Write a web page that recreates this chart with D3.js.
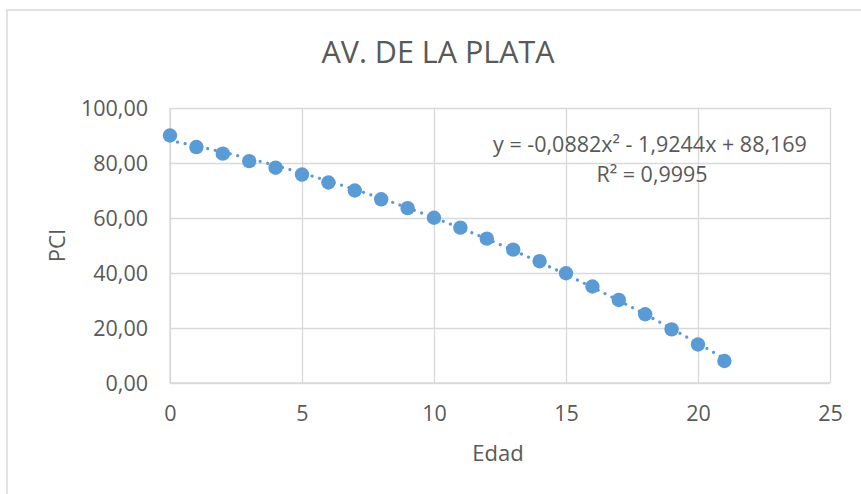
<!DOCTYPE html>
<html>
<head>
<meta charset="utf-8">
<script src="https://cdn.jsdelivr.net/npm/d3@7/dist/d3.min.js"></script>
<style>
  html, body { margin: 0; padding: 0; background: #ffffff; }
  svg { display: block; }
  text { font-family: "Open Sans", "Liberation Sans", sans-serif; fill: #595959; }
</style>
</head>
<body>
<svg id="chart" width="861" height="494"></svg>
<script>
// Age (years) and PCI readings
const edad = [0, 1, 2, 3, 4, 5, 6, 7, 8, 9, 10, 11, 12, 13, 14, 15, 16, 17, 18, 19, 20, 21];
const pci = [90.0, 85.8, 83.4, 80.7, 78.3, 75.8, 72.9, 70.0, 66.8, 63.6, 60.1,
             56.5, 52.5, 48.5, 44.3, 39.9, 35.1, 30.2, 25.0, 19.5, 14.0, 8.0];

// Polynomial trend (order 2): c0 + c1*x + c2*x^2
const trendCoef = [88.169, -1.9244, -0.0882];
const rSquared = 0.9995;

const xTicks = [0, 5, 10, 15, 20, 25];
const yTicks = [0, 20, 40, 60, 80, 100];

const title = "AV. DE LA PLATA";
const xTitle = "Edad";
const yTitle = "PCI";

const svg = d3.select("#chart");
const W = 861, H = 494;
const plot = { left: 170, right: 830, top: 108, bottom: 383 };
const blue = "#5B9BD5";
const grid = "#d9d9d9";

const es = d3.formatLocale({ decimal: ",", thousands: ".", grouping: [3], currency: ["", ""] });
const fmtY = es.format(".2f");
const comma = v => String(v).replace(".", ",");

const x = d3.scaleLinear().domain([0, 25]).range([plot.left, plot.right]);
const y = d3.scaleLinear().domain([0, 100]).range([plot.bottom, plot.top]);

// chart frame
svg.append("rect")
  .attr("x", 7).attr("y", 10)
  .attr("width", W + 20).attr("height", H + 20)
  .attr("fill", "#ffffff")
  .attr("stroke", grid).attr("stroke-width", 1.5);

// gridlines
const gx = svg.append("g").attr("transform", `translate(0,${plot.bottom})`)
  .call(d3.axisBottom(x).tickValues(xTicks).tickSize(-(plot.bottom - plot.top)).tickFormat(""));
const gy = svg.append("g").attr("transform", `translate(${plot.left},0)`)
  .call(d3.axisLeft(y).tickValues(yTicks).tickSize(-(plot.right - plot.left)).tickFormat(""));
[gx, gy].forEach(g => {
  g.select(".domain").remove();
  g.selectAll(".tick line").attr("stroke", grid).attr("stroke-width", 1.3);
});

// axis lines
svg.append("line").attr("x1", plot.left).attr("x2", plot.right)
  .attr("y1", plot.bottom).attr("y2", plot.bottom)
  .attr("stroke", grid).attr("stroke-width", 1.3);
svg.append("line").attr("x1", plot.left).attr("x2", plot.left)
  .attr("y1", plot.top).attr("y2", plot.bottom)
  .attr("stroke", grid).attr("stroke-width", 1.3);

// tick labels
const ax = svg.append("g").attr("transform", `translate(0,${plot.bottom + 23})`)
  .call(d3.axisBottom(x).tickValues(xTicks).tickSize(0).tickFormat(d3.format("d")));
const ay = svg.append("g").attr("transform", `translate(${plot.left - 22},0)`)
  .call(d3.axisLeft(y).tickValues(yTicks).tickSize(0).tickFormat(fmtY));
[ax, ay].forEach(g => {
  g.select(".domain").remove();
  g.selectAll(".tick text")
    .attr("font-family", "'Open Sans', 'Liberation Sans', sans-serif")
    .attr("font-size", 21.5).attr("fill", "#595959");
});
ax.selectAll(".tick text").attr("dy", "0.71em").attr("y", 0);
ay.selectAll(".tick text").attr("x", 0).attr("dy", "0.35em");

// trend curve
const poly = v => trendCoef[0] + trendCoef[1] * v + trendCoef[2] * v * v;
const xs = d3.range(0, d3.max(edad) + 0.001, 0.1);
svg.append("path")
  .datum(xs)
  .attr("fill", "none")
  .attr("stroke", blue)
  .attr("stroke-width", 3.2)
  .attr("stroke-linecap", "round")
  .attr("stroke-dasharray", "0.01 7.7")
  .attr("d", d3.line().x(d => x(d)).y(d => y(poly(d))));

// data points
svg.append("g").selectAll("circle")
  .data(edad.map((e, i) => ({ e, p: pci[i] })))
  .join("circle")
  .attr("cx", d => x(d.e))
  .attr("cy", d => y(d.p))
  .attr("r", 7.2)
  .attr("fill", blue);

// equation and R²
const c = trendCoef;
const sign = v => (v < 0 ? "- " : "+ ") + comma(Math.abs(v));
const eq = `y = ${comma(c[2])}x² ${sign(c[1])}x ${sign(c[0])}`;
svg.append("text").attr("x", 650).attr("y", 152)
  .attr("text-anchor", "middle").attr("font-size", 21.5).text(eq);
svg.append("text").attr("x", 652).attr("y", 182)
  .attr("text-anchor", "middle").attr("font-size", 21.5).text(`R² = ${comma(rSquared)}`);

// titles
svg.append("text").attr("x", 438).attr("y", 63)
  .attr("text-anchor", "middle").attr("font-size", 30.5)
  .text(title);
svg.append("text").attr("x", (plot.left + plot.right) / 2 - 2).attr("y", 461)
  .attr("text-anchor", "middle").attr("font-size", 22).text(xTitle);
svg.append("text")
  .attr("transform", `translate(65,${(plot.top + plot.bottom) / 2}) rotate(-90)`)
  .attr("text-anchor", "middle").attr("font-size", 22).text(yTitle);
</script>
</body>
</html>
